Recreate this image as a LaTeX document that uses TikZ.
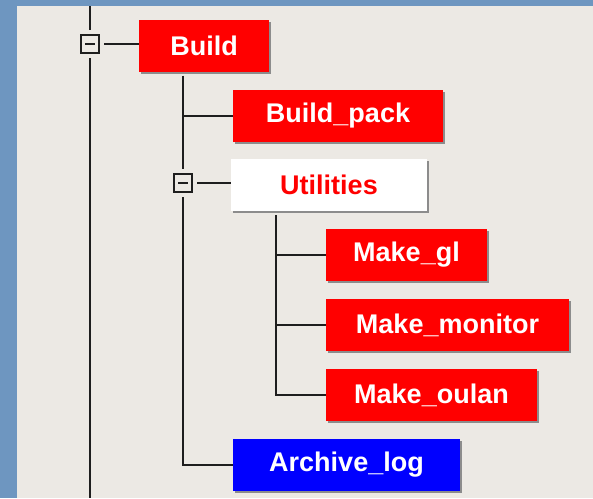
\documentclass[tikz,border=0pt]{standalone}
\usepackage{fontspec}
\setmainfont{Liberation Sans}
\usetikzlibrary{shadows,calc}
\definecolor{bgc}{HTML}{ECE9E4}
\definecolor{stripc}{HTML}{6E96C0}
\definecolor{linec}{HTML}{1E1E1E}
\tikzset{
  conn/.style={draw=linec, line width=2pt},
  tbox/.style={rectangle, fill=red, text=white, inner sep=0pt, minimum height=52pt,
    font=\fontsize{27}{27}\selectfont\bfseries,
    general shadow={fill=black!45, shadow xshift=2pt, shadow yshift=-2pt}},
  wbox/.style={tbox, fill=white, text=red},
  bbox/.style={tbox, fill=blue},
  expander/.style={rectangle, draw=linec, line width=2pt, fill=bgc, minimum size=18pt, inner sep=0pt}
}
\begin{document}
\begin{tikzpicture}[x=1pt, y=-1pt]
\useasboundingbox (0,0) rectangle (593,498);
\fill[stripc] (0,0) rectangle (593,498);
\fill[bgc] (17,6) rectangle (593,498);
% nodes
\node[tbox, minimum width=130pt] (build) at (204,45.5) {Build};
\node[tbox, minimum width=210pt] (pack) at (338,115.5) {Build\_pack};
\node[wbox, minimum width=196pt] (util) at (329,184.5) {Utilities};
\node[tbox, minimum width=161pt] (gl) at (406.5,254.5) {Make\_gl};
\node[tbox, minimum width=243pt] (mon) at (447.5,325) {Make\_monitor};
\node[tbox, minimum width=211pt] (oulan) at (431.5,395) {Make\_oulan};
\node[bbox, minimum width=227pt] (arch) at (346.5,465) {Archive\_log};
\node[expander] (e1) at (90,44) {};
\node[expander] (e2) at (183,183) {};
\draw[linec, line width=2pt] ($(e1.center)+(-5pt,0)$) -- ($(e1.center)+(5pt,0)$);
\draw[linec, line width=2pt] ($(e2.center)+(-5pt,0)$) -- ($(e2.center)+(5pt,0)$);
\coordinate (top) at (90,6);
\coordinate (bot) at (90,498);
\coordinate (ut) at (276,211);
% connectors
\draw[conn, shorten >=4pt] (top) -- (e1.north);
\draw[conn, shorten <=4pt] (e1.south) -- (bot);
\draw[conn, shorten <=4pt] (e1.east) -- (e1.east -| build.west);
\draw[conn, shorten <=4pt, shorten >=4pt] (build.south -| e2.north) -- (e2.north);
\draw[conn, shorten <=4pt] (e2.south) |- (arch.west);
\draw[conn] (e2.north |- pack.west) -- (pack.west);
\draw[conn, shorten <=4pt] (e2.east) -- (e2.east -| util.west);
\draw[conn, shorten <=4pt] (ut) |- (oulan.west);
\draw[conn] (ut |- gl.west) -- (gl.west);
\draw[conn] (ut |- mon.west) -- (mon.west);
\end{tikzpicture}
\end{document}
